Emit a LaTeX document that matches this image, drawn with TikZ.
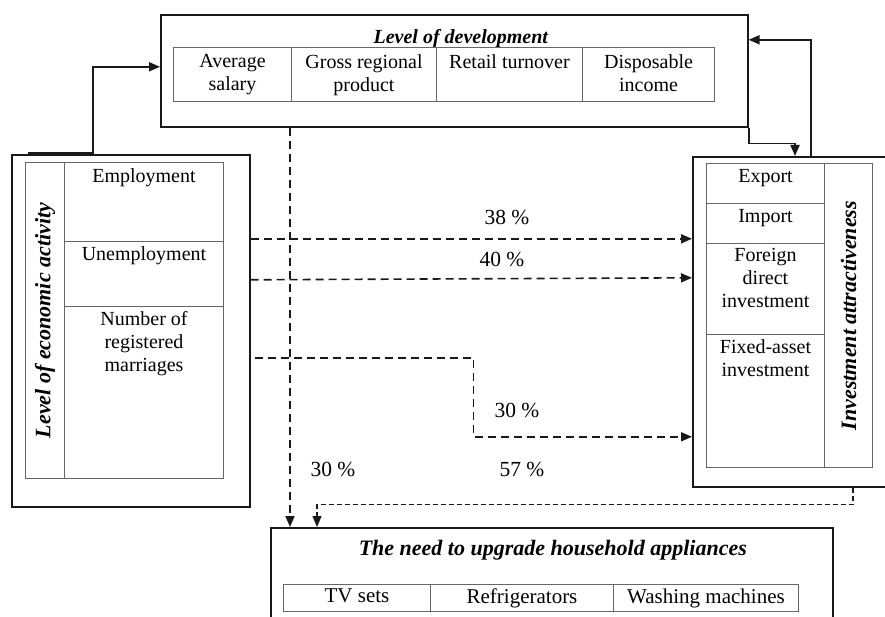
\documentclass[tikz,border=0pt]{standalone}
\usepackage{fontspec}
\setmainfont{Liberation Serif}
\usetikzlibrary{arrows.meta}
\begin{document}
\begin{tikzpicture}[x=1pt,y=1pt,
  outerbox/.style={draw=black!90, line width=1.6pt, inner sep=0pt, anchor=north west},
  cell/.style={draw=black!60, line width=1pt, inner sep=0pt, anchor=north west},
  txt/.style={font=\fontsize{20}{23}\selectfont, align=center, inner sep=0pt, anchor=north},
  pct/.style={font=\fontsize{21.5}{24}\selectfont, inner sep=0pt, anchor=north},
  ttl/.style={font=\fontsize{20}{23}\selectfont\bfseries\itshape, inner sep=0pt},
  bigttl/.style={font=\fontsize{22}{25}\selectfont\bfseries\itshape, inner sep=0pt},
  conn/.style={draw=black!90, line width=1.8pt, -{Triangle[length=11pt,width=9pt]}},
  dconn/.style={draw=black!90, line width=1.6pt, dash pattern=on 8pt off 5pt, -{Triangle[length=11pt,width=9pt]}},
  fconn/.style={draw=black!90, line width=1.2pt, dash pattern=on 5pt off 3pt, -{Triangle[length=11pt,width=9pt]}},
]
\useasboundingbox (0,0) rectangle (885,-617);

% ---------- Level of development ----------
\node[outerbox, minimum width=587pt, minimum height=112pt] (dev) at (160,-14) {};
\node[ttl, anchor=north] (devt) at ([xshift=6.5pt,yshift=-15.5pt]dev.north) {Level of development};
\node[cell, minimum width=118pt, minimum height=54pt] (d1) at (173,-47) {};
\node[cell, minimum width=145pt, minimum height=54pt] (d2) at (291,-47) {};
\node[cell, minimum width=146pt, minimum height=54pt] (d3) at (436,-47) {};
\node[cell, minimum width=132pt, minimum height=54pt] (d4) at (582,-47) {};
\node[txt] (d1t) at ([yshift=-7.5pt]d1.north) {Average\\salary};
\node[txt] (d2t) at ([yshift=-7.5pt]d2.north) {Gross regional\\product};
\node[txt] (d3t) at ([yshift=-7.5pt]d3.north) {Retail turnover};
\node[txt] (d4t) at ([yshift=-7.5pt]d4.north) {Disposable\\income};

% ---------- Level of economic activity ----------
\node[outerbox, minimum width=238pt, minimum height=352pt] (eco) at (11,-154) {};
\node[cell, minimum width=39pt, minimum height=316pt] (lt) at (25,-162) {};
\node[cell, minimum width=159pt, minimum height=79pt] (l1) at (64,-162) {};
\node[cell, minimum width=159pt, minimum height=65pt] (l2) at (64,-241) {};
\node[cell, minimum width=159pt, minimum height=172pt] (l3) at (64,-306) {};
\node[bigttl, rotate=90] (ltt) at (lt.center) {Level of economic activity};
\node[txt] (l1t) at ([yshift=-6pt]l1.north) {Employment};
\node[txt] (l2t) at ([yshift=-5pt]l2.north) {Unemployment};
\node[txt] (l3t) at ([yshift=-5.5pt]l3.north) {Number of\\registered\\marriages};

% ---------- Investment attractiveness ----------
\node[outerbox, minimum width=220pt, minimum height=330pt] (inv) at (692,-156) {};
\node[cell, minimum width=118pt, minimum height=40pt] (r1) at (706,-163) {};
\node[cell, minimum width=118pt, minimum height=40pt] (r2) at (706,-203) {};
\node[cell, minimum width=118pt, minimum height=91pt] (r3) at (706,-243) {};
\node[cell, minimum width=118pt, minimum height=133pt] (r4) at (706,-334) {};
\node[cell, minimum width=48pt, minimum height=304pt] (rt) at (824,-163) {};
\node[bigttl, rotate=90] (rtt) at (rt.center) {Investment attractiveness};
\node[txt] (r1t) at ([yshift=-6.5pt]r1.north) {Export};
\node[txt] (r2t) at ([yshift=-6.5pt]r2.north) {Import};
\node[txt] (r3t) at ([yshift=-5.5pt]r3.north) {Foreign\\direct\\investment};
\node[txt] (r4t) at ([yshift=-5.5pt]r4.north) {Fixed-asset\\investment};

% ---------- The need to upgrade household appliances ----------
\node[outerbox, minimum width=562pt, minimum height=110pt] (need) at (270,-527) {};
\node[bigttl, anchor=north] (needt) at ([xshift=1pt,yshift=-13pt]need.north) {The need to upgrade household appliances};
\node[cell, minimum width=147pt, minimum height=27pt] (n1) at (283,-584) {};
\node[cell, minimum width=183pt, minimum height=27pt] (n2) at (430,-584) {};
\node[cell, minimum width=185pt, minimum height=27pt] (n3) at (613,-584) {};
\node[txt, font=\fontsize{21}{24}\selectfont] (n1t) at ([yshift=-4.8pt]n1.north) {TV sets};
\node[txt, font=\fontsize{21}{24}\selectfont] (n2t) at ([yshift=-4.8pt]n2.north) {Refrigerators};
\node[txt, font=\fontsize{21}{24}\selectfont] (n3t) at ([yshift=-4.8pt]n3.north) {Washing machines};

% ---------- solid connectors ----------
\draw[conn] ([xshift=17pt,yshift=1pt]eco.north west) -- ([xshift=82pt,yshift=1pt]eco.north west) |- ([yshift=4pt]dev.west);
\draw[conn] (dev.south east) -- ++(0,-16) -| ([xshift=103pt]inv.north west);
\draw[conn] ([xshift=119pt]inv.north west) |- ([yshift=31pt]dev.east);

% ---------- dashed connectors ----------
\draw[dconn] ([xshift=130pt]dev.south west) -- ([xshift=20pt]need.north west);
\draw[dconn] ([yshift=92pt]eco.east) -- ([yshift=83pt]inv.west);
\draw[dconn] ([yshift=51pt]eco.east) -- ([yshift=44pt]inv.west);
\draw[dconn] ([xshift=4pt,yshift=-27pt]eco.east) -- ([xshift=223pt,yshift=-27pt]eco.east) |- ([yshift=-115pt]inv.west);
\draw[fconn] ([xshift=161pt]inv.south west) -- ++(0,-17) -| ([xshift=47pt]need.north west);

% ---------- percentages ----------
\node[pct] (p38) at (507,-210.5) {38 \%};
\node[pct] (p40) at (502,-252.5) {40 \%};
\node[pct] (p30a) at (517,-402.5) {30 \%};
\node[pct] (p30b) at (333,-461.5) {30 \%};
\node[pct] (p57) at (522,-461.5) {57 \%};
\end{tikzpicture}
\end{document}
